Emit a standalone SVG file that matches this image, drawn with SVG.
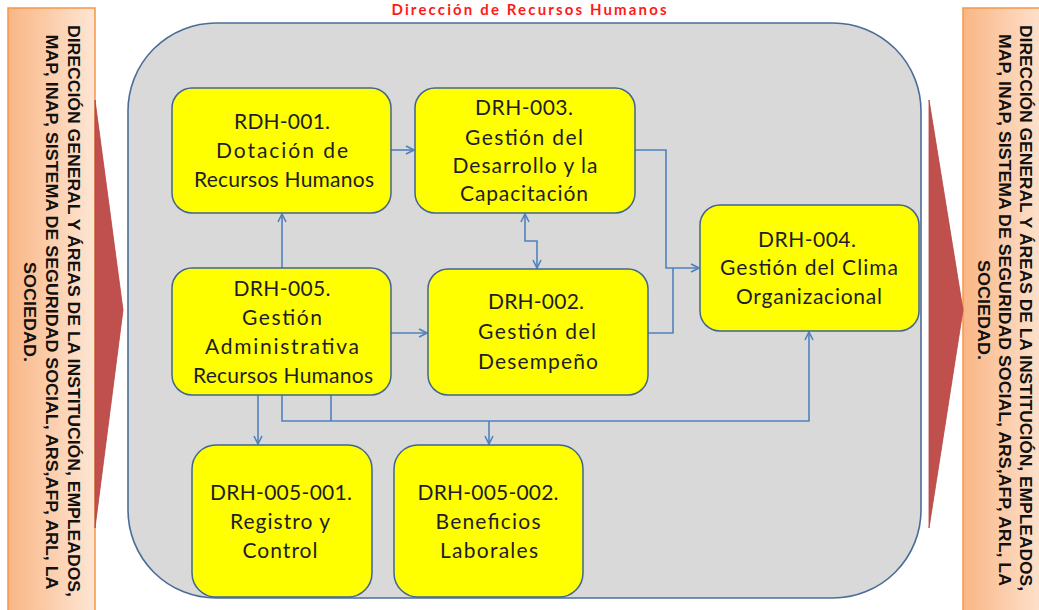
<svg xmlns="http://www.w3.org/2000/svg" width="1039" height="610" viewBox="0 0 1039 610">
  <defs>
    <linearGradient id="sideFill" x1="0" y1="0" x2="1" y2="0">
      <stop offset="0" stop-color="#f9b685"/>
      <stop offset="1" stop-color="#fee6d4"/>
    </linearGradient>
    <marker id="arrow" viewBox="0 0 10 10" refX="9" refY="5" markerWidth="10" markerHeight="10" markerUnits="userSpaceOnUse" orient="auto-start-reverse">
      <path d="M1,1 L9,5 L1,9" fill="none" stroke="#4f81bd" stroke-width="1.6"/>
    </marker>
    <style>
      .side { fill: url(#sideFill); stroke: #f79646; stroke-width: 1.5; }
      .side-text { font-family: "Liberation Sans", Arial, sans-serif; font-weight: bold; font-size: 16px; fill: #111; }
      .wedge { fill: #c0504d; stroke: #b04542; stroke-width: 0.8; }
      .frame { fill: #d9d9d9; stroke: #4a6d98; stroke-width: 1.6; }
      .box { fill: #ffff00; stroke: #41668f; stroke-width: 1.5; }
      .label { font-family: Lato, "Noto Sans", sans-serif; font-size: 21px; fill: #1d1d2b; text-anchor: middle; }
      .title { font-family: Lato, "Liberation Sans", sans-serif; font-weight: bold; font-size: 15px; fill: #ff1a1a; text-anchor: middle; }
      .link { fill: none; stroke: #4f81bd; stroke-width: 1.6; }
    </style>
  </defs>

  <rect width="1039" height="610" fill="#ffffff"/>

  <!-- heading above the frame -->
  <text class="title" x="529" y="15" textLength="275" lengthAdjust="spacing">Dirección de Recursos Humanos</text>

  <!-- input side panel -->
  <g id="panel-left">
    <rect class="side" x="8" y="8" width="87" height="612"/>
    <g class="side-text" text-anchor="middle">
      <text transform="translate(68,311) rotate(90)" textLength="572" lengthAdjust="spacingAndGlyphs">DIRECCIÓN GENERAL Y ÁREAS DE LA INSTITUCIÓN, EMPLEADOS,</text>
      <text transform="translate(46,312) rotate(90)" textLength="555" lengthAdjust="spacingAndGlyphs">MAP, INAP, SISTEMA DE SEGURIDAD SOCIAL, ARS,AFP, ARL, LA</text>
      <text transform="translate(24,312) rotate(90)" textLength="100" lengthAdjust="spacingAndGlyphs">SOCIEDAD.</text>
    </g>
  </g>

  <!-- output side panel -->
  <g id="panel-right">
    <rect class="side" x="963" y="8" width="88" height="612"/>
    <g class="side-text" text-anchor="middle">
      <text transform="translate(1020,308) rotate(90)" textLength="566" lengthAdjust="spacingAndGlyphs">DIRECCIÓN GENERAL Y ÁREAS DE LA INSTITUCIÓN, EMPLEADOS,</text>
      <text transform="translate(999,310) rotate(90)" textLength="552" lengthAdjust="spacingAndGlyphs">MAP, INAP, SISTEMA DE SEGURIDAD SOCIAL, ARS,AFP, ARL, LA</text>
      <text transform="translate(978,310) rotate(90)" textLength="100" lengthAdjust="spacingAndGlyphs">SOCIEDAD.</text>
    </g>
  </g>

  <!-- flow wedges -->
  <polygon class="wedge" points="95,100 123,310 95,528"/>
  <polygon class="wedge" points="929,100 963,310 929,528"/>

  <!-- process frame -->
  <rect id="frame" class="frame" x="128" y="23" width="793" height="575" rx="88" ry="88"/>

  <!-- connectors -->
  <g id="connectors">
    <path class="link" d="M391,150 H414" marker-end="url(#arrow)"/>
    <path class="link" d="M282,268 V214" marker-end="url(#arrow)"/>
    <path class="link" d="M525,214 V241 H537 V268" marker-start="url(#arrow)" marker-end="url(#arrow)"/>
    <path class="link" d="M635,150 H666 V268 H699" marker-end="url(#arrow)"/>
    <path class="link" d="M648,333 H673 V268"/>
    <path class="link" d="M391,333 H427" marker-end="url(#arrow)"/>
    <path class="link" d="M258,395 V444" marker-end="url(#arrow)"/>
    <path class="link" d="M282,395 V421 H809 V332" marker-end="url(#arrow)"/>
    <path class="link" d="M331,395 V421"/>
    <path class="link" d="M489,421 V444" marker-end="url(#arrow)"/>
  </g>

  <g id="rdh-001">
    <rect class="box" x="172" y="88" width="219" height="125" rx="20"/>
    <text class="label" x="282" y="129" textLength="96" lengthAdjust="spacing">RDH-001.</text>
    <text class="label" x="282" y="158" textLength="132" lengthAdjust="spacing">Dotación de</text>
    <text class="label" x="284" y="187" textLength="180" lengthAdjust="spacing">Recursos Humanos</text>
  </g>

  <g id="drh-003">
    <rect class="box" x="415" y="88" width="220" height="125" rx="20"/>
    <text class="label" x="524" y="115" textLength="98" lengthAdjust="spacing">DRH-003.</text>
    <text class="label" x="524" y="145" textLength="118" lengthAdjust="spacing">Gestión del</text>
    <text class="label" x="525" y="173" textLength="145" lengthAdjust="spacing">Desarrollo y la</text>
    <text class="label" x="524" y="201" textLength="128" lengthAdjust="spacing">Capacitación</text>
  </g>

  <g id="drh-005">
    <rect class="box" x="172" y="268" width="219" height="127" rx="20"/>
    <text class="label" x="282" y="296" textLength="97" lengthAdjust="spacing">DRH-005.</text>
    <text class="label" x="282" y="325" textLength="80" lengthAdjust="spacing">Gestión</text>
    <text class="label" x="282" y="354" textLength="154" lengthAdjust="spacing">Administrativa</text>
    <text class="label" x="283" y="383" textLength="180" lengthAdjust="spacing">Recursos Humanos</text>
  </g>

  <g id="drh-002">
    <rect class="box" x="428" y="269" width="220" height="126" rx="20"/>
    <text class="label" x="536" y="309" textLength="96" lengthAdjust="spacing">DRH-002.</text>
    <text class="label" x="537" y="339" textLength="118" lengthAdjust="spacing">Gestión del</text>
    <text class="label" x="538" y="369" textLength="120" lengthAdjust="spacing">Desempeño</text>
  </g>

  <g id="drh-004">
    <rect class="box" x="700" y="205" width="219" height="126" rx="20"/>
    <text class="label" x="807" y="247" textLength="98" lengthAdjust="spacing">DRH-004.</text>
    <text class="label" x="809" y="275" textLength="178" lengthAdjust="spacing">Gestión del Clima</text>
    <text class="label" x="809" y="304" textLength="146" lengthAdjust="spacing">Organizacional</text>
  </g>

  <g id="drh-005-001">
    <rect class="box" x="192" y="445" width="180" height="152" rx="24"/>
    <text class="label" x="281" y="500" textLength="142" lengthAdjust="spacing">DRH-005-001.</text>
    <text class="label" x="280" y="529" textLength="100" lengthAdjust="spacing">Registro y</text>
    <text class="label" x="280" y="558" textLength="75" lengthAdjust="spacing">Control</text>
  </g>

  <g id="drh-005-002">
    <rect class="box" x="394" y="445" width="189" height="152" rx="24"/>
    <text class="label" x="488" y="500" textLength="141" lengthAdjust="spacing">DRH-005-002.</text>
    <text class="label" x="488" y="529" textLength="105" lengthAdjust="spacing">Beneficios</text>
    <text class="label" x="489" y="558" textLength="98" lengthAdjust="spacing">Laborales</text>
  </g>
</svg>
